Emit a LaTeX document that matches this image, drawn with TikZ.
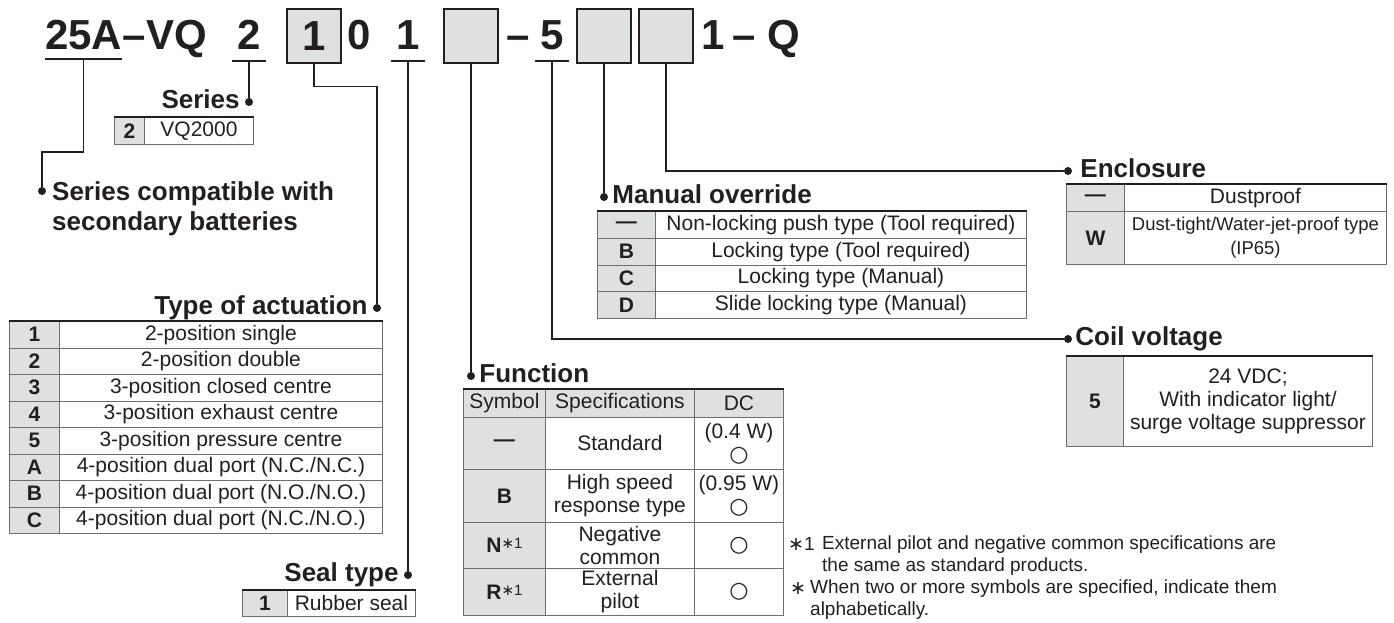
\documentclass[tikz,border=0pt]{standalone}
\usepackage{fontspec}
\setmainfont{Liberation Sans}
\newfontfamily\symfont{DejaVu Sans}
\usepackage{xcolor}
\definecolor{ink}{HTML}{231F20}
\definecolor{keyGray}{HTML}{DFE0E1}
\definecolor{ruleGray}{HTML}{6D6E70}
\usetikzlibrary{positioning}

\begin{document}
\begin{tikzpicture}[x=1pt, y=-1pt,
  ttl/.style={inner sep=0pt, text=ink, font=\fontsize{42}{42}\selectfont\bfseries},
  digit/.style={ttl, minimum width=34pt},
  codebox/.style={draw=ink, line width=1.6pt, fill=keyGray, minimum width=54pt, minimum height=54pt,
    inner sep=0pt, text=ink, font=\fontsize{42}{42}\selectfont\bfseries},
  uline/.style={ink, line width=1.4pt},
  conn/.style={ink, line width=1.4pt},
  dot/.style={circle, fill=ink, inner sep=0pt, minimum size=8pt},
  lbl/.style={inner sep=0pt, text=ink, text height=13pt, text depth=0pt, font=\fontsize{26}{30}\selectfont\bfseries},
  cell/.style={draw=ruleGray, line width=0.9pt, inner sep=0pt, anchor=north west, align=center,
    text=ink, font=\fontsize{21}{23}\selectfont},
  keycell/.style={cell, fill=keyGray, font=\fontsize{21}{23}\selectfont\bfseries},
  topline/.style={ink, line width=1.8pt},
  note/.style={inner sep=0pt, anchor=north west, align=left, text=ink, font=\fontsize{19}{22}\selectfont}]
  \useasboundingbox (0,0) rectangle (1394,623);

  % ---- model code ----
  \node[ttl, anchor=base west] (n25A) at (45,50) {25A};
  \node[ttl, anchor=base west] (nVQ) at (n25A.base east) {–VQ};
  \node[digit, anchor=base] (n2) at (249,50) {2};
  \node[codebox] (box1) at (314,36) {1};
  \node[ttl, anchor=base] (n0) at (359.5,50) {0};
  \node[digit, anchor=base] (n1) at (408,50) {1};
  \node[codebox] (box2) at (471,36) {};
  \node[ttl, anchor=base] (dash5) at (518.5,50) {–};
  \node[digit, anchor=base] (n5) at (552,50) {5};
  \node[codebox] (box3) at (604,36) {};
  \node[codebox] (box4) at (666,36) {};
  \node[ttl, anchor=base] (n1b) at (713,50) {1};
  \node[ttl, anchor=base] (dashQ) at (744.5,50) {–};
  \node[ttl, anchor=base] (nQ) at (783.5,50) {Q};

  \draw[uline] ([yshift=-9pt]n25A.base west) -- ([yshift=-9pt]n25A.base east);
  \foreach \d in {n2,n1,n5}
    \draw[uline] ([yshift=-11pt]\d.base west) -- ([yshift=-11pt]\d.base east);
  \coordinate (u25A) at ([yshift=-9pt]n25A.base);
  \coordinate (u2) at ([yshift=-11pt]n2.base);
  \coordinate (u1) at ([yshift=-11pt]n1.base);
  \coordinate (u5) at ([yshift=-11pt]n5.base);

  % ---- dots and labels ----
  \node[dot] (cmpDot) at (42,191) {};
  \node[dot] (serDot) at (249,102) {};
  \node[dot] (actDot) at (377,308) {};
  \node[dot] (sealDot) at (408,575) {};
  \node[dot] (fnDot) at (471,376) {};
  \node[dot] (manDot) at (604,197) {};
  \node[dot] (encDot) at (1068,171) {};
  \node[dot] (coilDot) at (1068,339) {};

  \node[lbl, left=5pt of serDot] (serT) {Series};
  \node[lbl, left=5pt of actDot] (actT) {Type of actuation};
  \node[lbl, left=5pt of sealDot] (sealT) {Seal type};
  \node[lbl, right=4pt of fnDot] (fnT) {Function};
  \node[lbl, right=4pt of manDot] (manT) {Manual override};
  \node[lbl, right=8pt of encDot] (encT) {Enclosure};
  \node[lbl, right=3pt of coilDot] (coilT) {Coil voltage};
  \node[inner sep=0pt, anchor=north west, align=left, text=ink, font=\fontsize{26}{30}\selectfont\bfseries]
    (cmpT) at (52,181) {Series compatible with\\secondary batteries};

  % ---- connectors ----
  \draw[conn] (u25A) -- ++(0,93) -| (cmpDot);
  \draw[conn] (u2) -- (serDot);
  \draw[conn] (box1.south) -- ++(0,23) -| (actDot);
  \draw[conn] (u1) -- (sealDot);
  \draw[conn] (box2.south) -- (fnDot);
  \draw[conn] (u5) |- (coilDot);
  \draw[conn] (box3.south) -- (manDot);
  \draw[conn] (box4.south) |- (encDot);

  % ---- series ----
  \node[keycell, minimum width=30pt, minimum height=27pt] (serK) at (114,117) {2};
  \node[cell, minimum width=109pt, minimum height=27pt] (serV) at (144,117) {VQ2000};
  \draw[topline] (serK.north west) -- (serV.north east);

  % ---- type of actuation ----
  \foreach \k/\t [count=\i from 0] in {1/{2-position single}, 2/{2-position double},
      3/{3-position closed centre}, 4/{3-position exhaust centre}, 5/{3-position pressure centre},
      A/{4-position dual port (N.C./N.C.)}, B/{4-position dual port (N.O./N.O.)},
      C/{4-position dual port (N.C./N.O.)}} {
    \node[keycell, minimum width=50pt, minimum height=26.5pt] (actK\i) at (9,321+26.5*\i) {\k};
    \node[cell, minimum width=323pt, minimum height=26.5pt] (actV\i) at (59,321+26.5*\i) {\t};
  }
  \draw[topline] (actK0.north west) -- (actV0.north east);

  % ---- seal type ----
  \node[keycell, minimum width=45pt, minimum height=26pt] (sealK) at (242,590) {1};
  \node[cell, minimum width=128pt, minimum height=26pt] (sealV) at (287,590) {Rubber seal};
  \draw[topline] (sealK.north west) -- (sealV.north east);

  % ---- function ----
  \node[keycell, font=\fontsize{21}{23}\selectfont, minimum width=82pt, minimum height=28pt] (fnH1) at (463,389) {Symbol};
  \node[keycell, font=\fontsize{21}{23}\selectfont, minimum width=149pt, minimum height=28pt] (fnH2) at (545,389) {Specifications};
  \node[keycell, font=\fontsize{21}{23}\selectfont, minimum width=89pt, minimum height=28pt] (fnH3) at (694,389) {DC};
  \node[keycell, minimum width=82pt, minimum height=52pt] (fnK1) at (463,417) {—};
  \node[cell, minimum width=149pt, minimum height=52pt] (fnS1) at (545,417) {Standard};
  \node[cell, minimum width=89pt, minimum height=52pt] (fnD1) at (694,417) {(0.4 W)\\{\symfont\fontsize{22}{22}\selectfont ○}};
  \node[keycell, minimum width=82pt, minimum height=53pt] (fnK2) at (463,469) {B};
  \node[cell, minimum width=149pt, minimum height=53pt] (fnS2) at (545,469) {High speed\\response type};
  \node[cell, minimum width=89pt, minimum height=53pt] (fnD2) at (694,469) {(0.95 W)\\{\symfont\fontsize{22}{22}\selectfont ○}};
  \node[keycell, minimum width=82pt, minimum height=46pt] (fnK3) at (463,522)
    {N\raisebox{4pt}{\mdseries\fontsize{15}{15}\selectfont{\symfont ∗}1}};
  \node[cell, minimum width=149pt, minimum height=46pt] (fnS3) at (545,522) {Negative\\common};
  \node[cell, minimum width=89pt, minimum height=46pt] (fnD3) at (694,522) {{\symfont\fontsize{22}{22}\selectfont ○}};
  \node[keycell, minimum width=82pt, minimum height=47pt] (fnK4) at (463,568)
    {R\raisebox{4pt}{\mdseries\fontsize{15}{15}\selectfont{\symfont ∗}1}};
  \node[cell, minimum width=149pt, minimum height=47pt] (fnS4) at (545,568) {External\\pilot};
  \node[cell, minimum width=89pt, minimum height=47pt] (fnD4) at (694,568) {{\symfont\fontsize{22}{22}\selectfont ○}};
  \draw[topline] (fnH1.north west) -- (fnH3.north east);

  % ---- manual override ----
  \foreach \k/\t [count=\i from 0] in {—/{Non-locking push type (Tool required)},
      B/{Locking type (Tool required)}, C/{Locking type (Manual)}, D/{Slide locking type (Manual)}} {
    \node[keycell, minimum width=58pt, minimum height=26.75pt] (manK\i) at (597,211+26.75*\i) {\k};
    \node[cell, minimum width=371pt, minimum height=26.75pt] (manV\i) at (655,211+26.75*\i) {\t};
  }
  \draw[topline] (manK0.north west) -- (manV0.north east);

  % ---- enclosure ----
  \node[keycell, minimum width=58pt, minimum height=27pt] (encK1) at (1066,184) {—};
  \node[cell, minimum width=262pt, minimum height=27pt] (encV1) at (1124,184) {Dustproof};
  \node[keycell, minimum width=58pt, minimum height=53pt] (encK2) at (1066,211) {W};
  \node[cell, font=\fontsize{18.5}{24}\selectfont, minimum width=262pt, minimum height=53pt] (encV2) at (1124,211)
    {Dust-tight/Water-jet-proof type\\(IP65)};
  \draw[topline] (encK1.north west) -- (encV1.north east);

  % ---- coil voltage ----
  \node[keycell, minimum width=57pt, minimum height=90pt] (coilK) at (1066,356) {5};
  \node[cell, minimum width=249pt, minimum height=90pt] (coilV) at (1123,356)
    {24 VDC;\\With indicator light/\\surge voltage suppressor};
  \draw[topline] (coilK.north west) -- (coilV.north east);

  % ---- notes ----
  \node[note, anchor=base west] (noteA) at (788,550) {{\symfont ∗}1};
  \node[note] (noteAt) at (822,536) {External pilot and negative common specifications are\\the same as standard products.};
  \node[note, anchor=base west] (noteB) at (790,594) {{\symfont ∗}};
  \node[note] (noteBt) at (810,580) {When two or more symbols are specified, indicate them\\alphabetically.};
\end{tikzpicture}
\end{document}
